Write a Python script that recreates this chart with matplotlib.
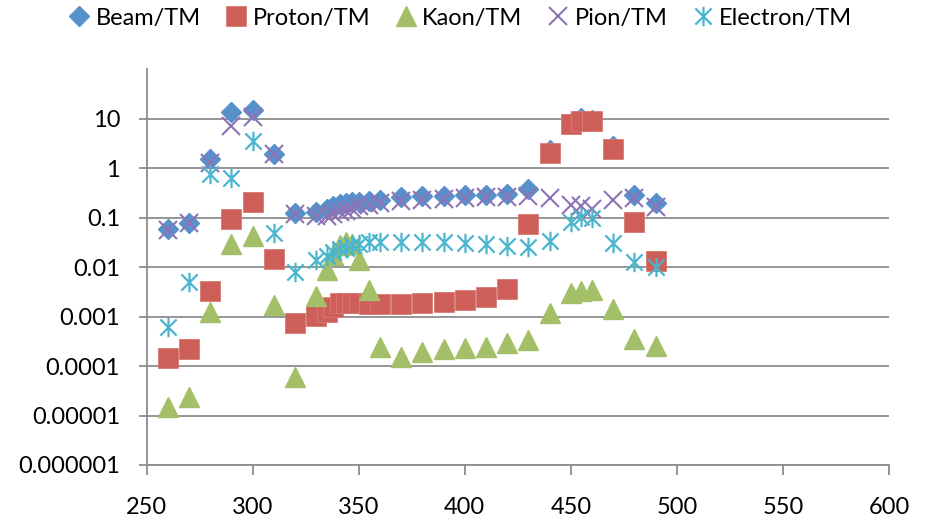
import matplotlib.pyplot as plt
from matplotlib.path import Path

plt.rcParams['font.family'] = ['Lato', 'DejaVu Sans']

# energy points
energy = [260, 270, 280, 290, 300, 310, 320, 330, 335, 338, 341, 344, 347, 350,
          355, 360, 370, 380, 390, 400, 410, 420, 430, 440, 450, 455, 460, 470,
          480, 490]

beam = [0.059, 0.080, 1.54, 13.6, 15.1, 1.95, 0.127, 0.13, 0.15, 0.17, 0.19,
        0.2, 0.21, 0.21, 0.22, 0.23, 0.26, 0.27, 0.28, 0.29, 0.29, 0.3, 0.39,
        2.4, 8.2, 10.5, 9.5, 2.8, 0.29, 0.196]

proton = [0.000148, 0.00022, 0.0033, 0.096, 0.21, 0.0147, 0.00074, 0.00103,
          0.00126, 0.0016, 0.0019, 0.0019, 0.0019, 0.0019, 0.0018, 0.0018,
          0.0018, 0.0019, 0.002, 0.0022, 0.0025, 0.0037, 0.075, 2.07, 7.9, 8.9,
          9.0, 2.5, 0.083, 0.0135]

kaon = [0.0000148, 0.0000234, 0.00126, 0.030, 0.042, 0.0017, 0.000061, 0.0026,
        0.0088, 0.018, 0.028, 0.032, 0.03, 0.014, 0.0035, 0.00024, 0.000155,
        0.000195, 0.00022, 0.00023, 0.00024, 0.00029, 0.00034, 0.00117, 0.003,
        0.0033, 0.0034, 0.0014, 0.00035, 0.00025]

pion = [0.056, 0.078, 1.3, 7.2, 11, 1.95, 0.12, 0.11, 0.11, 0.12, 0.13, 0.14,
        0.15, 0.17, 0.18, 0.2, 0.22, 0.23, 0.24, 0.25, 0.26, 0.26, 0.27, 0.25,
        0.18, 0.17, 0.15, 0.23, 0.25, 0.167]

electron = [0.00063, 0.0051, 0.76, 0.63, 3.6, 0.05, 0.0081, 0.014, 0.017, 0.02,
            0.023, 0.025, 0.028, 0.03, 0.032, 0.033, 0.033, 0.033, 0.033, 0.031,
            0.03, 0.027, 0.026, 0.034, 0.083, 0.105, 0.1, 0.031, 0.013, 0.0103]

ytick_vals = [1e-6, 1e-5, 1e-4, 1e-3, 1e-2, 1e-1, 1, 10]
ytick_labels = ['0.000001', '0.00001', '0.0001', '0.001', '0.01', '0.1', '1', '10']
xtick_vals = [250, 300, 350, 400, 450, 500, 550, 600]

# excel style asterisk: X with a vertical stroke
star = Path([(-1, -1), (1, 1), (-1, 1), (1, -1), (0, -1.2), (0, 1.2)],
            [Path.MOVETO, Path.LINETO] * 3)

fig = plt.figure(figsize=(9.29, 5.26), dpi=100)
ax = fig.add_axes([0.1577, 0.116, 0.7993, 0.752])

ax.plot(energy, beam, ls='none', marker='D', ms=10, color='#5890CC',
        mec='#5890CC', label='Beam/TM')
ax.plot(energy, proton, ls='none', marker='s', ms=14, color='#CD5F58',
        mec='#D97A73', mew=0.6, label='Proton/TM')
ax.plot(energy, kaon, ls='none', marker='^', ms=14, color='#A3C068',
        mec='#A3C068', label='Kaon/TM')
ax.plot(energy, pion, ls='none', marker='x', ms=13.5, color='#8E74B5',
        mew=1.5, label='Pion/TM')
ax.plot(energy, electron, ls='none', marker=star, ms=14, color='#4BB5CE',
        mew=1.6, label='Electron/TM')

ax.set_yscale('log')
ax.set_ylim(1e-6, 100)
ax.set_xlim(250, 600)
ax.set_yticks(ytick_vals)
ax.set_yticklabels(ytick_labels)
ax.minorticks_off()
ax.set_xticks(xtick_vals)

ax.grid(axis='y', color='#8C8C8C', lw=1.3)
ax.set_axisbelow(True)
for side in ['top', 'right']:
    ax.spines[side].set_visible(False)
for side in ['left', 'bottom']:
    ax.spines[side].set_color('#8C8C8C')
    ax.spines[side].set_linewidth(1.3)

ax.tick_params(axis='y', length=6, width=1.3, color='#8C8C8C', pad=13,
               labelsize=17)
ax.tick_params(axis='x', length=7, width=1.3, color='#8C8C8C', pad=16,
               labelsize=17)

fig.legend(loc='center', bbox_to_anchor=(461 / 929, 1 - 18 / 526), ncol=5,
           frameon=False, fontsize=17, handlelength=0.8, handletextpad=0.3,
           columnspacing=1.1)

fig.savefig('out.png', dpi=100)
